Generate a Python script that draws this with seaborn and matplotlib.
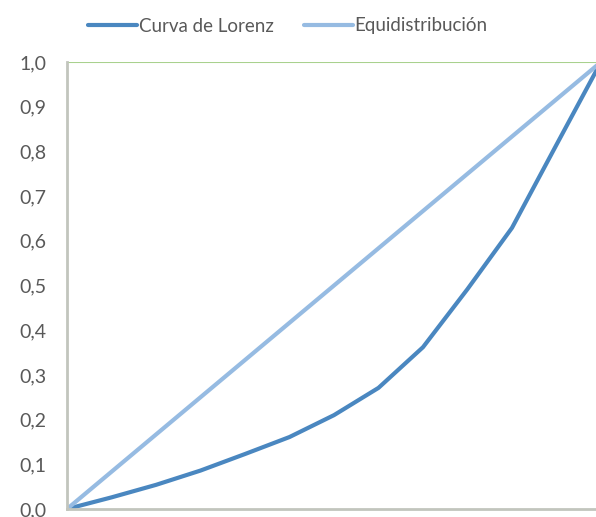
import numpy as np
import pandas as pd
import matplotlib
matplotlib.use("Agg")
import matplotlib.pyplot as plt
import seaborn as sns

# datos (13 puntos, de 0 a 12)
puntos = list(range(13))
lorenz = [0.0, 0.026, 0.054, 0.086, 0.123, 0.161, 0.210, 0.271, 0.362, 0.492, 0.629, 0.815, 1.0]
equi = [i / 12 for i in puntos]
yticks = [0.0, 0.1, 0.2, 0.3, 0.4, 0.5, 0.6, 0.7, 0.8, 0.9, 1.0]

df = pd.DataFrame({
    "x": puntos * 2,
    "y": lorenz + equi,
    "serie": ["Curva de Lorenz"] * 13 + ["Equidistribución"] * 13,
})

sns.set_style("white")
plt.rcParams["font.family"] = ["Lato", "DejaVu Sans"]

fig = plt.figure(figsize=(5.96, 5.17), dpi=100)
ax = fig.add_axes([67 / 596, 8 / 517, 534 / 596, 447 / 517])

sns.lineplot(data=df, x="x", y="y", hue="serie",
             palette=["#4a87c0", "#96bbe2"], linewidth=3.0, ax=ax)

ax.axhline(1.0, color="#a9d18e", linewidth=1.5, zorder=0)
ax.set_xlim(0, 12)
ax.set_ylim(0, 1.0)
ax.set_yticks(yticks)
ax.set_yticklabels([f"{v:.1f}".replace(".", ",") for v in yticks],
                   fontsize=14, color="#595959")
ax.set_xticks([])
ax.set_xlabel("")
ax.set_ylabel("")
ax.tick_params(axis="y", length=0, pad=15)
for s in ["top", "right"]:
    ax.spines[s].set_visible(False)
for s in ["left", "bottom"]:
    ax.spines[s].set_color("#c2c5bd")
    ax.spines[s].set_linewidth(2)

ax.legend(loc="center", bbox_to_anchor=(288 / 596, 1 - 26 / 517),
          bbox_transform=fig.transFigure, ncol=2, frameon=False,
          fontsize=13.5, handlelength=2.6, handletextpad=0.1,
          columnspacing=1.6, labelcolor="#595959")

fig.savefig("out.png", dpi=100)
